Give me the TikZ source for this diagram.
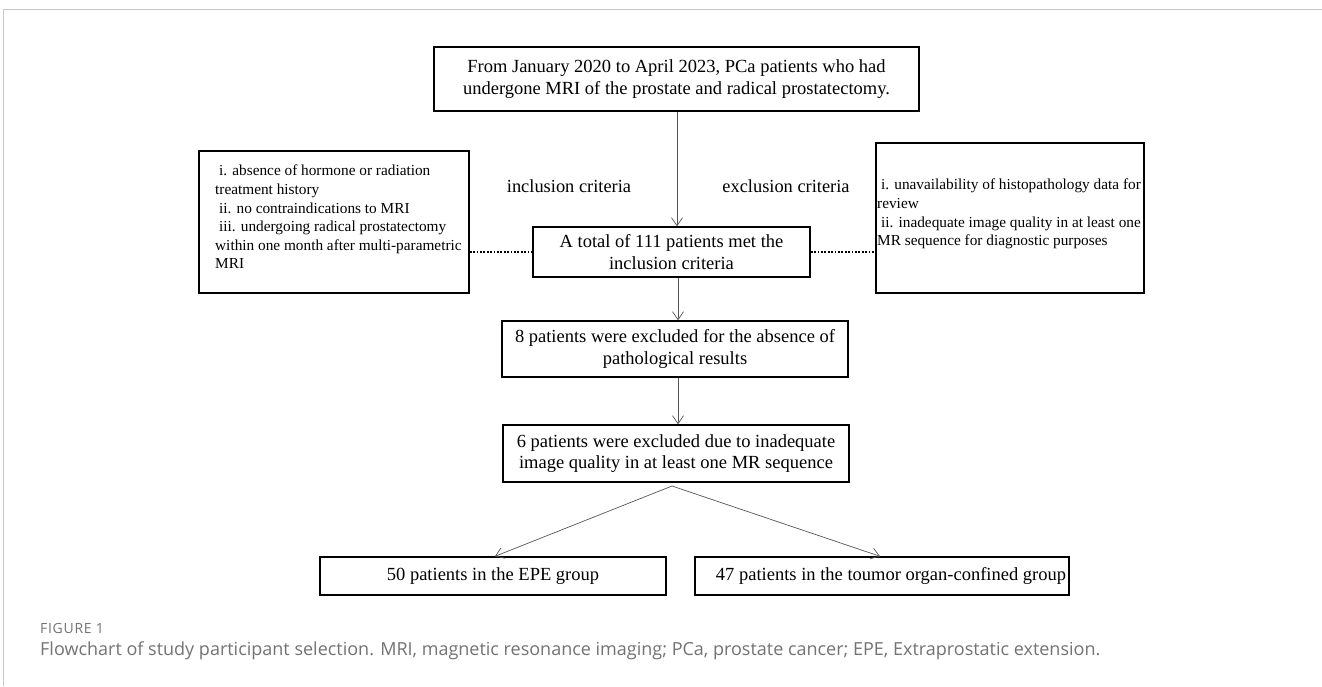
\documentclass[tikz,border=0pt]{standalone}
\usepackage{fontspec}
\setmainfont{Liberation Serif}
\newfontfamily\capfont{Open Sans}
\newfontfamily\figfont[LetterSpace=5]{Open Sans}
\usetikzlibrary{arrows.meta,calc}
\definecolor{capgray}{HTML}{737373}
\definecolor{framegray}{HTML}{C8C8C8}
\definecolor{arrgray}{HTML}{555555}
\begin{document}
\begin{tikzpicture}[x=1pt,y=-1pt,
  box/.style={draw, line width=1.4pt, inner sep=0pt, align=center, font=\fontsize{18.5}{21.5}\selectfont},
  crit/.style={inner sep=0pt, align=left, anchor=north west, font=\fontsize{15.3}{18.6}\selectfont},
  lbl/.style={inner sep=0pt, font=\fontsize{18.4}{21}\selectfont},
  arr/.style={draw=arrgray, line width=0.7pt, -{Straight Barb[length=8pt,width=11pt]}},
  dots/.style={draw=black, line width=1.8pt, dash pattern=on 1.8pt off 1.6pt},
  captext/.style={inner sep=0pt, anchor=west, text=capgray}]
\useasboundingbox (0,0) rectangle (1322,686);
\fill[white] (0,0) rectangle (1322,686);
\draw[framegray, line width=1pt] (3.5,686) -- (3.5,9.5) -- (1322,9.5);

\node[box, minimum width=485pt, minimum height=64pt] (top) at (676.5,79)
  {From January 2020 to April 2023, PCa patients who had\\undergone MRI of the prostate and radical prostatectomy.};
\node[box, minimum width=277pt, minimum height=50pt] (mid) at (671.5,252)
  {A total of 111 patients met the\\inclusion criteria};
\node[box, minimum width=270pt, minimum height=142pt] (inc) at (334,222) {};
\node[box, minimum width=268pt, minimum height=150pt] (exc) at (1010,218) {};
\node[crit] (inctext) at (215,165)
  {\hspace*{4pt}i. absence of hormone or radiation\\treatment history\\\hspace*{4pt}ii. no contraindications to MRI\\\hspace*{4pt}iii. undergoing radical prostatectomy\\within one month after multi-parametric\\MRI};
\node[crit] (exctext) at (877,179)
  {\hspace*{4pt}i. unavailability of histopathology data for\\review\\\hspace*{4pt}ii. inadequate image quality in at least one\\MR sequence for diagnostic purposes};
\node[box, minimum width=346pt, minimum height=56pt] (ex1) at (675,349)
  {8 patients were excluded for the absence of\\pathological results};
\node[box, minimum width=346pt, minimum height=57pt] (ex2) at (676,453.5)
  {6 patients were excluded due to inadequate\\image quality in at least one MR sequence};
\node[box, minimum width=346pt, minimum height=38pt] (g1) at (493,576)
  {50 patients in the EPE group};
\node[box, minimum width=374pt, minimum height=38pt] (g2) at (882,576)
  {\hspace*{18pt}47 patients in the toumor organ-confined group};

\node[lbl] (inlbl) at (569,186) {inclusion criteria};
\node[lbl] (exlbl) at (786,186) {exclusion criteria};

\coordinate (x677) at (677,0);
\coordinate (x678) at (678,0);
\coordinate (fork) at (672,486);
\coordinate (x495) at (495,0);
\coordinate (x880) at (880,0);

\draw[arr] (top.south -| x677) -- (mid.north -| x677);
\draw[arr] (mid.south -| x678) -- (ex1.north -| x678);
\draw[arr] (ex1.south -| x678) -- (ex2.north -| x678);
\draw[arr] (fork) -- (g1.north -| x495);
\draw[arr] (fork) -- (g2.north -| x880);

\draw[dots] (inc.east |- mid.west) -- (mid.west);
\draw[dots] (mid.east) -- (exc.west |- mid.east);

\node[captext, font=\figfont\fontsize{14}{16}\selectfont] (figlbl) at (40,628) {FIGURE 1};
\node[captext, font=\capfont\fontsize{18}{21}\selectfont] (caption) at (40,651)
  {Flowchart of study participant selection. MRI, magnetic resonance imaging; PCa, prostate cancer; EPE, Extraprostatic extension.};
\end{tikzpicture}
\end{document}
